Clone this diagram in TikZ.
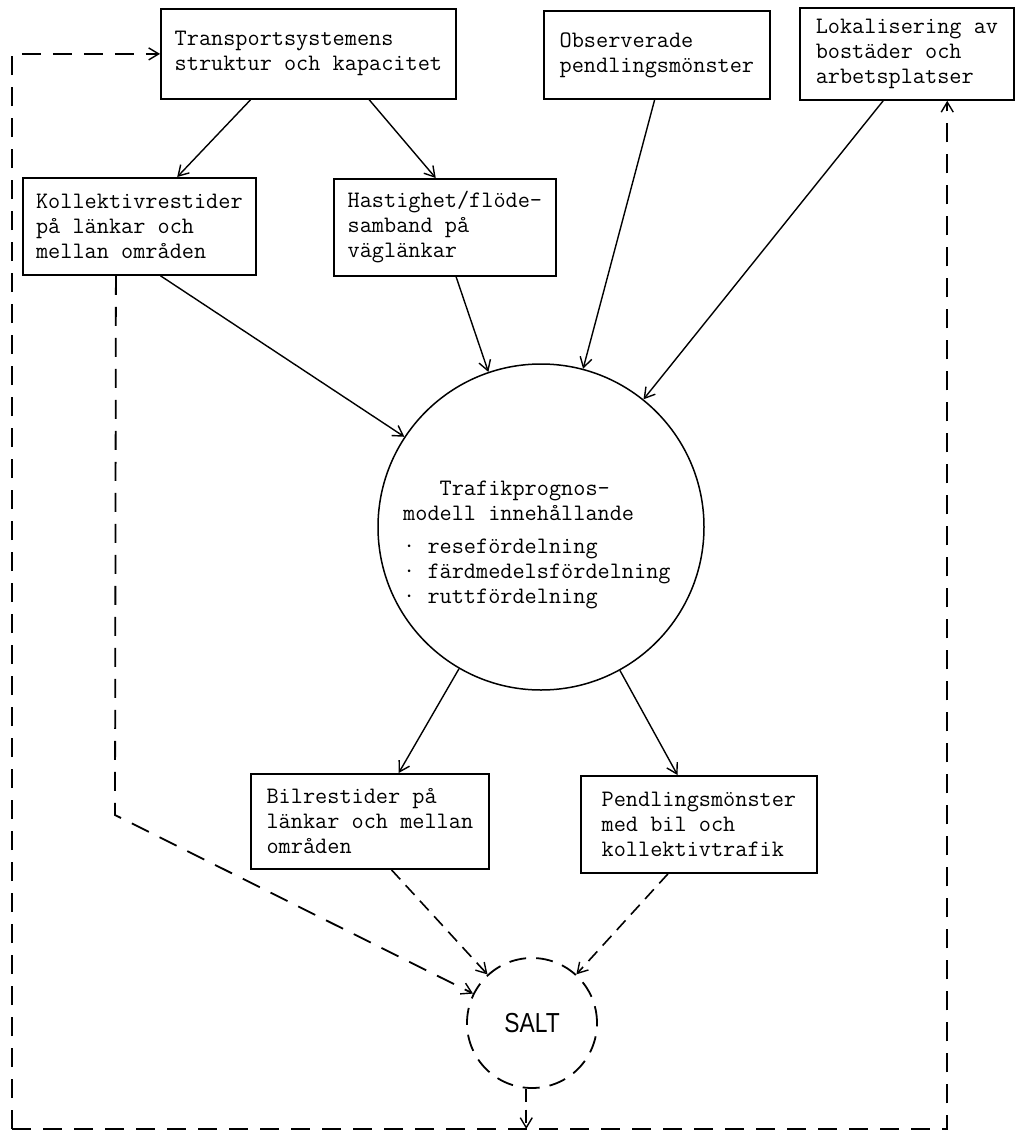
\documentclass[tikz,border=0pt]{standalone}
\usepackage{fontspec}
\newfontfamily\saltfont[FakeStretch=0.83]{Liberation Sans}
\usetikzlibrary{arrows.meta,calc}

\tikzset{
  tw/.style={font=\ttfamily\addfontfeatures{FakeBold=1.1}\fontsize{23.6pt}{25pt}\selectfont},
  box/.style={tw, draw, rectangle, line width=1.8pt, align=left,
    inner sep=0pt, anchor=north west},
  tip/.style={-{Straight Barb[length=10pt,width=12pt,line width=1.4pt]}},
  flow/.style={line width=1.4pt, tip},
  feed/.style={line width=1.8pt, dash pattern=on 19pt off 12pt, tip},
  feedshort/.style={line width=1.6pt, dash pattern=on 13pt off 8pt, tip},
}

\begin{document}
\begin{tikzpicture}[x=1pt, y=-1pt]
\useasboundingbox (0,0) rectangle (1018,1135);

% input boxes
\node[box, minimum width=295pt, minimum height=90pt] (trans) at (160,8)
  {Transportsystemens\\struktur och kapacitet};
\node[box, minimum width=226pt, minimum height=88pt] (obs) at (543,10)
  {Observerade\\pendlingsmönster};
\node[box, minimum width=214pt, minimum height=92pt] (lok) at (799,7)
  {Lokalisering av\\bostäder och\\arbetsplatser};
\node[box, minimum width=233pt, minimum height=97pt] (koll) at (22,177)
  {Kollektivrestider\\på länkar och\\mellan områden};
\node[box, minimum width=222pt, minimum height=97pt] (hast) at (333,178)
  {Hastighet/flöde-\\samband på\\väglänkar};

% forecasting model
\node[draw, circle, line width=1.5pt, minimum size=326pt, inner sep=0pt]
  (model) at (541,527) {};
\node[tw, align=left, anchor=north west, inner sep=0pt] (mtext) at (403,481)
  {\phantom{Tra}Trafikprognos-\\modell innehållande\\[8pt]%
   · resefördelning\\· färdmedelsfördelning\\· ruttfördelning};

% output boxes
\node[box, minimum width=238pt, minimum height=95pt] (bil) at (250,773)
  {Bilrestider på\\länkar och mellan\\områden};
\node[box, minimum width=236pt, minimum height=97pt] (pend) at (580,775)
  {Pendlingsmönster\\med bil och\\kollektivtrafik};

% SALT
\node[draw, circle, line width=1.8pt, dash pattern=on 17pt off 10pt,
  minimum size=130pt, inner sep=0pt,
  font=\saltfont\fontsize{27.5pt}{30pt}\selectfont] (salt) at (532,1023) {SALT};

% solid flows
\draw[flow] ($(trans.south west)!0.305!(trans.south east)$)
  -- ($(koll.north west)!0.661!(koll.north east)$);
\draw[flow] ($(trans.south west)!0.705!(trans.south east)$)
  -- ($(hast.north west)!0.459!(hast.north east)$);
\draw[flow] ($(koll.south west)!0.59!(koll.south east)$) -- (model);
\draw[flow] ($(hast.south west)!0.55!(hast.south east)$) -- (model);
\draw[flow] ($(obs.south west)!0.49!(obs.south east)$) -- (model);
\draw[flow] ($(lok.south west)!0.39!(lok.south east)$) -- (model);
\draw[flow] (model) -- ($(bil.north west)!0.62!(bil.north east)$);
\draw[flow] (model) -- ($(pend.north west)!0.41!(pend.north east)$);

% dashed flows into SALT
\coordinate (kbend) at (115,815);
\draw[feed] ($(koll.south west)!0.40!(koll.south east)$) -- (kbend) -- (salt);
\draw[feedshort] ($(bil.south west)!0.59!(bil.south east)$) -- (salt);
\draw[feedshort] ($(pend.south west)!0.37!(pend.south east)$) -- (salt);

% feedback loop
\coordinate (loopSW) at (12,1129);
\coordinate (lokin) at ($(lok.south west)!0.687!(lok.south east)$);
\draw[feedshort] (salt.-95) -- (salt.-95 |- loopSW);
\draw[feed] (loopSW) |- (trans.west);
\draw[feed] (loopSW) -| (lokin);
\end{tikzpicture}
\end{document}
